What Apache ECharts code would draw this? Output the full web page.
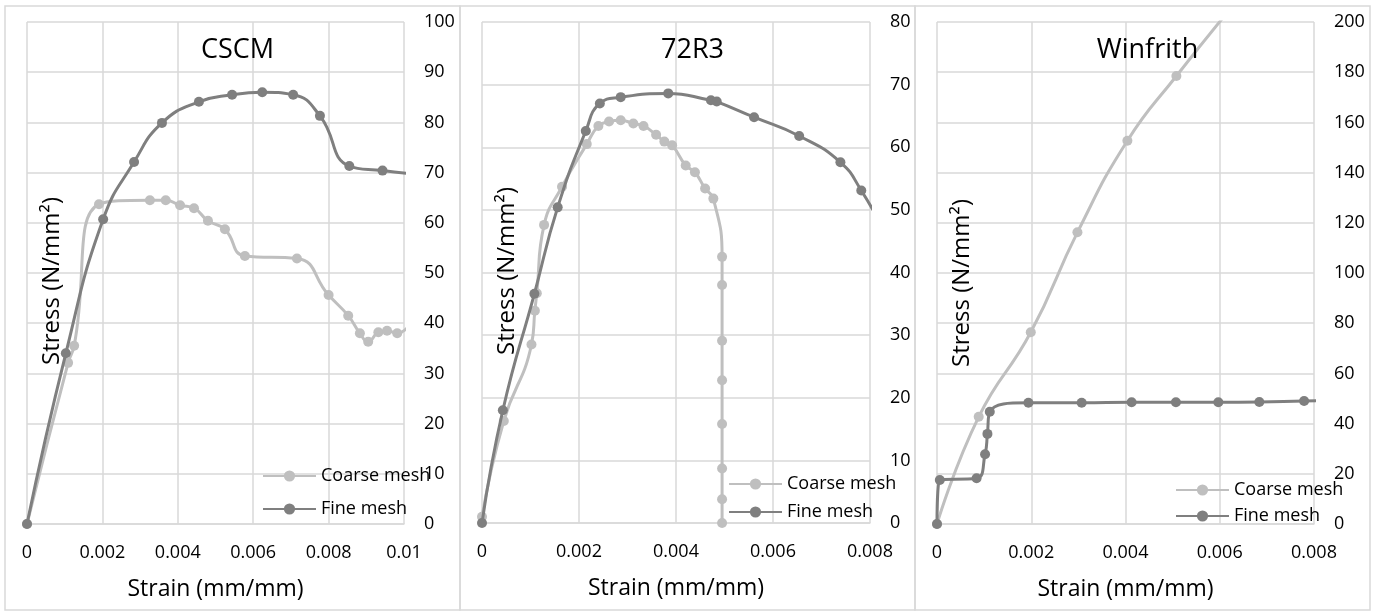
<!DOCTYPE html>
<html>
<head>
<meta charset="utf-8">
<script src="https://cdn.jsdelivr.net/npm/echarts@6/dist/echarts.min.js"></script>
<style>
html,body{margin:0;padding:0;background:#fff;}
#chart{width:1378px;height:612px;}
</style>
</head>
<body>
<div id="chart"></div>
<script>
// ---- Data (strain in mm/mm, stress in N/mm²) ----
const panelTitles = ['CSCM', '72R3', 'Winfrith'];
const seriesNames = ['Coarse mesh', 'Fine mesh'];
const xTitle = 'Strain (mm/mm)';
const yTitle = 'Stress (N/mm²)';

// CSCM
const cscmCoarseStrain = [0, 0.00109, 0.00125, 0.00191, 0.00326, 0.00368, 0.00406, 0.00443, 0.0048, 0.00525, 0.00578, 0.00716, 0.0080, 0.00852, 0.00883, 0.00905, 0.00932, 0.00955, 0.00982, 0.0103];
const cscmCoarseStress = [0, 32.1, 35.5, 63.7, 64.5, 64.5, 63.5, 62.9, 60.4, 58.7, 53.4, 52.9, 45.6, 41.5, 38.0, 36.3, 38.2, 38.5, 38.0, 41.5];
const cscmFineStrain = [0, 0.00103, 0.00202, 0.00284, 0.00358, 0.00456, 0.00544, 0.00624, 0.00706, 0.00777, 0.00855, 0.00943, 0.0105];
const cscmFineStress = [0, 34.0, 60.7, 72.1, 79.9, 84.1, 85.5, 86.0, 85.5, 81.3, 71.3, 70.4, 69.5];

// 72R3
const r3CoarseStrain = [0, 0.00045, 0.00102, 0.00109, 0.00113, 0.00128, 0.00165, 0.00216, 0.0024, 0.00262, 0.00286, 0.00312, 0.00333, 0.00359, 0.00376, 0.00392, 0.0042, 0.00439, 0.0046, 0.00477, 0.00495, 0.00495, 0.00495, 0.00495, 0.00495, 0.00495, 0.00495, 0.00495];
const r3CoarseStress = [1.0, 16.3, 28.5, 33.9, 36.7, 47.6, 53.7, 60.5, 63.4, 64.1, 64.3, 63.8, 63.4, 62.0, 60.9, 60.3, 57.1, 56.0, 53.4, 51.8, 42.5, 38.0, 29.1, 22.8, 15.8, 8.7, 3.8, 0];
const r3FineStrain = [0, 0.00043, 0.00108, 0.00156, 0.00214, 0.00243, 0.00286, 0.00384, 0.00472, 0.00484, 0.00561, 0.00654, 0.00739, 0.00782, 0.0083];
const r3FineStress = [0, 18.0, 36.6, 50.4, 62.6, 67.0, 68.0, 68.6, 67.5, 67.3, 64.8, 61.8, 57.6, 53.1, 46.5];

// Winfrith
const winCoarseStrain = [0, 0.000885, 0.00199, 0.00298, 0.00404, 0.00508, 0.0063];
const winCoarseStress = [0, 42.7, 76.4, 116.2, 152.7, 178.5, 207];
const winFineStrain = [0, 0.00006, 0.00084, 0.00102, 0.00107, 0.00112, 0.00194, 0.00307, 0.00413, 0.00507, 0.00597, 0.00684, 0.00779, 0.0083];
const winFineStress = [0, 17.5, 18.2, 27.8, 35.9, 44.7, 48.3, 48.3, 48.5, 48.5, 48.5, 48.6, 49.0, 49.1];

// Axis ranges
const xMax = [0.01, 0.008, 0.008];
const xStep = [0.002, 0.002, 0.002];
const yMax = [100, 80, 200];
const yStep = [10, 10, 20];

// ---- Styling ----
const FONT = 'Open Sans';
const coarseColor = '#bfbfbf';
const fineColor = '#7f7f7f';
const gridColor = '#d9d9d9';

const grids = [
  {left: 27, top: 22, width: 377, height: 502},
  {left: 482, top: 22, width: 388, height: 501},
  {left: 937, top: 22, width: 377, height: 502}
];
const panels = [[5, 460], [460, 915], [915, 1370]];
const yTitlePos = [[52, 281], [507, 271], [962, 283]];
const legendPos = [
  {left: 262, top: 467, gap: 15},
  {left: 728, top: 475, gap: 10},
  {left: 1175, top: 481, gap: 8}
];

function pairs(xs, ys) { return xs.map((x, i) => [x, ys[i]]); }
const dataSets = [
  [pairs(cscmCoarseStrain, cscmCoarseStress), pairs(cscmFineStrain, cscmFineStress)],
  [pairs(r3CoarseStrain, r3CoarseStress), pairs(r3FineStrain, r3FineStress)],
  [pairs(winCoarseStrain, winCoarseStress), pairs(winFineStrain, winFineStress)]
];

const xAxes = [], yAxes = [], series = [], titles = [], legends = [], graphics = [];
for (let p = 0; p < 3; p++) {
  xAxes.push({
    type: 'value', gridIndex: p, min: 0, max: xMax[p], interval: xStep[p],
    name: xTitle, nameLocation: 'middle', nameGap: 54,
    nameTextStyle: {fontFamily: FONT, fontSize: 23, color: '#000'},
    axisLine: {show: true, onZero: false, lineStyle: {color: gridColor, width: 1.5}},
    axisTick: {show: false},
    axisLabel: {fontFamily: FONT, fontSize: 18, color: '#000', margin: 20},
    splitLine: {show: true, lineStyle: {color: gridColor, width: 1.5}}
  });
  yAxes.push({
    type: 'value', gridIndex: p, position: 'right', min: 0, max: yMax[p], interval: yStep[p],
    axisLine: {show: false},
    axisTick: {show: false},
    axisLabel: {fontFamily: FONT, fontSize: 18, color: '#000', margin: 20, align: 'left'},
    splitLine: {show: true, lineStyle: {color: gridColor, width: 1.5}}
  });
  [coarseColor, fineColor].forEach((c, k) => {
    series.push({
      type: 'line', name: seriesNames[k], xAxisIndex: p, yAxisIndex: p,
      data: dataSets[p][k], smooth: 0.5, clip: true,
      symbol: 'circle', symbolSize: 10, showAllSymbol: true,
      lineStyle: {color: c, width: 3}, itemStyle: {color: c},
      z: 2 + k, animation: false
    });
  });
  titles.push({
    text: panelTitles[p], left: (panels[p][0] + panels[p][1]) / 2, top: 32, textAlign: 'center',
    textStyle: {fontFamily: FONT, fontSize: 27, fontWeight: 'normal', color: '#000'}
  });
  legends.push({
    orient: 'vertical', left: legendPos[p].left, top: legendPos[p].top,
    itemGap: legendPos[p].gap, itemWidth: 53, itemHeight: 14, padding: 0,
    data: seriesNames,
    textStyle: {fontFamily: FONT, fontSize: 18, color: '#000', lineHeight: 18}
  });
  graphics.push({
    type: 'rect', shape: {x: panels[p][0], y: 6, width: panels[p][1] - panels[p][0], height: 604},
    style: {fill: 'none', stroke: gridColor, lineWidth: 1.5}, silent: true, z: -1
  });
  graphics.push({
    type: 'text', x: yTitlePos[p][0], y: yTitlePos[p][1], rotation: Math.PI / 2,
    style: {text: yTitle, font: '24px "Open Sans"', fill: '#000', textAlign: 'center', textVerticalAlign: 'middle'},
    z: 10
  });
}

const chart = echarts.init(document.getElementById('chart'), null, {renderer: 'canvas'});
chart.setOption({
  animation: false,
  backgroundColor: '#fff',
  title: titles,
  legend: legends,
  grid: grids,
  xAxis: xAxes,
  yAxis: yAxes,
  series: series,
  graphic: graphics
});
</script>
</body>
</html>
